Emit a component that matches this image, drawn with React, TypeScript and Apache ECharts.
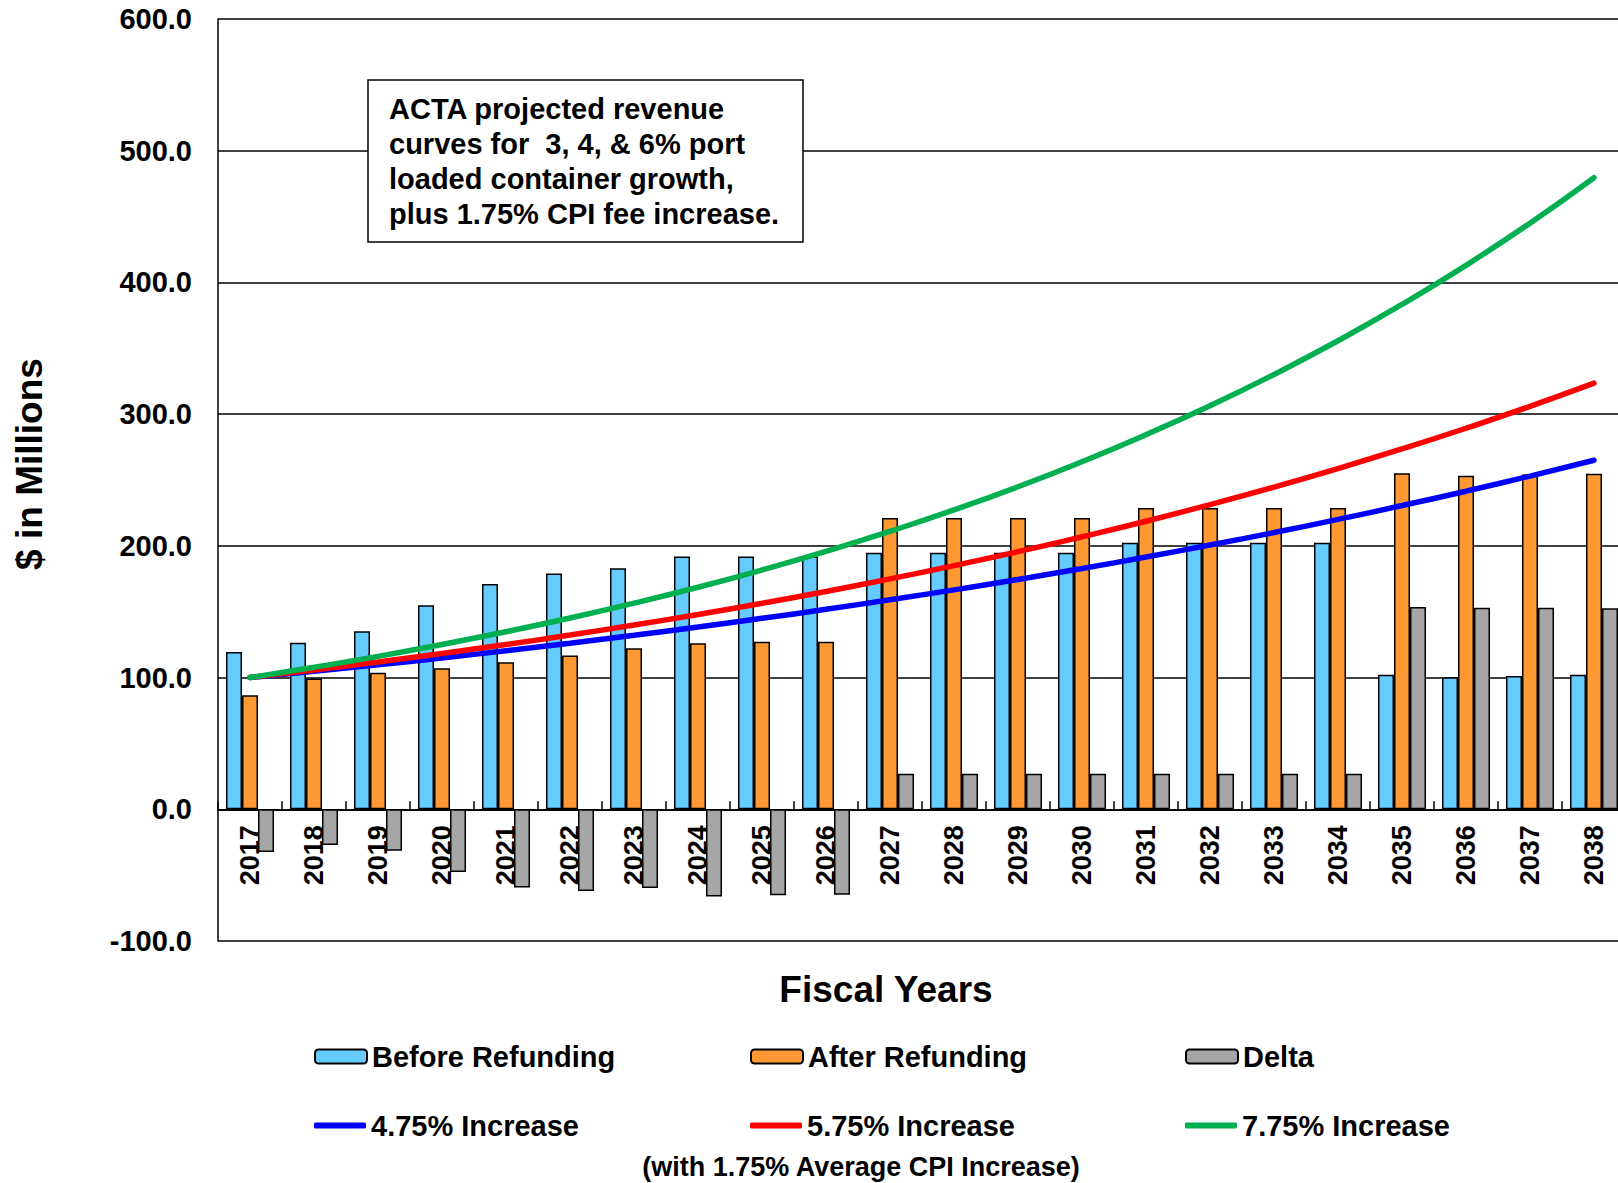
import React, { useEffect, useRef } from 'react';
import * as echarts from 'echarts';

const FONT = '"Liberation Sans", Arial, Helvetica, sans-serif';

const years = ['2017', '2018', '2019', '2020', '2021', '2022', '2023', '2024', '2025', '2026', '2027', '2028', '2029', '2030', '2031', '2032', '2033', '2034', '2035', '2036', '2037', '2038'];

const beforeRefunding = [119.5, 126.5, 135.2, 155.0, 171.0, 179.0, 183.0, 192.0, 192.0, 192.0, 194.8, 194.8, 194.8, 194.8, 202.4, 202.4, 202.4, 202.4, 102.1, 100.3, 101.1, 102.1];
const afterRefunding = [86.6, 99.3, 103.6, 107.1, 111.7, 116.8, 122.3, 126.1, 127.2, 127.2, 221.2, 221.2, 221.2, 221.2, 228.8, 228.8, 228.8, 228.8, 255.1, 253.3, 254.2, 254.8];
const delta = [-32.4, -27.1, -31.4, -47.6, -59.3, -62.0, -59.7, -66.3, -65.3, -64.8, 26.9, 26.9, 26.9, 26.9, 26.9, 26.9, 26.9, 26.9, 153.5, 153.0, 153.0, 152.6];

const increase475 = [100, 104.8, 109.7, 114.9, 120.4, 126.1, 132.1, 138.4, 145.0, 151.8, 159.1, 166.6, 174.5, 182.8, 191.5, 200.6, 210.1, 220.1, 230.6, 241.5, 253.0, 265.0];
const increase575 = [100, 105.8, 111.8, 118.3, 125.1, 132.3, 139.9, 147.9, 156.4, 165.4, 174.9, 185.0, 195.6, 206.9, 218.7, 231.3, 244.6, 258.7, 273.6, 289.3, 305.9, 323.5];
const increase775 = [100, 107.8, 116.1, 125.1, 134.8, 145.2, 156.5, 168.6, 181.7, 195.8, 211.0, 227.3, 244.9, 263.9, 284.4, 306.4, 330.1, 355.7, 383.3, 413.0, 445.0, 479.5];

const yTicks = { min: -100, max: 600, interval: 100 };

const annotationLines = [
  'ACTA projected revenue',
  'curves for  3, 4, & 6% port',
  'loaded container growth,',
  'plus 1.75% CPI fee increase.',
];

const GRID_TOP = 19;
const GRID_BOTTOM = 242;
const CHART_W = 1626;
const CHART_H = 1183;

export default function App() {
  const ref = useRef<HTMLDivElement>(null);

  useEffect(() => {
    document.body.style.margin = '0';
    document.body.style.overflow = 'hidden';
    document.documentElement.style.overflow = 'hidden';
    const chart = echarts.init(ref.current!, null, { renderer: 'svg' });

    // place the category axis on the zero line of the value axis
    const gridH = CHART_H - GRID_TOP - GRID_BOTTOM;
    const zeroOffset = -gridH * (0 - yTicks.min) / (yTicks.max - yTicks.min);

    const legendText = { fontFamily: FONT, fontWeight: 'bold' as const, fontSize: 29, color: '#000' };
    const mkLegend = (name: string, left: number, top: number, isLine: boolean) => ({
      data: isLine ? [{ name, icon: 'roundRect' }] : [name],
      left,
      top,
      padding: 0,
      itemWidth: 52,
      itemHeight: isLine ? 6 : 14,
      selectedMode: false,
      textStyle: legendText,
    });

    const barStyle = (color: string) => ({ color, borderColor: '#000', borderWidth: 1.5 });
    const lineSeries = (name: string, data: number[], color: string) => ({
      type: 'line',
      name,
      data,
      smooth: true,
      symbol: 'none',
      showSymbol: false,
      lineStyle: { width: 5.5, color, cap: 'round' },
      itemStyle: { color },
      z: 5,
    });

    const option: any = {
      animation: false,
      backgroundColor: '#fff',
      grid: { left: 218, top: GRID_TOP, right: 0, bottom: GRID_BOTTOM, containLabel: false },
      legend: [
        mkLegend('Before Refunding', 314, 1042, false),
        mkLegend('After Refunding', 750, 1042, false),
        mkLegend('Delta', 1185, 1042, false),
        mkLegend('4.75% Increase', 314, 1111, true),
        mkLegend('5.75% Increase', 750, 1111, true),
        mkLegend('7.75% Increase', 1185, 1111, true),
      ],
      xAxis: {
        type: 'category',
        data: years,
        offset: zeroOffset,
        axisLine: { onZero: false, lineStyle: { color: '#000', width: 2 } },
        axisTick: { show: true, inside: true, length: 8, lineStyle: { color: '#000', width: 1.5 } },
        axisLabel: {
          rotate: 90,
          margin: 16,
          interval: 0,
          fontFamily: FONT,
          fontWeight: 'bold',
          fontSize: 27,
          color: '#000',
        },
        splitLine: { show: false },
      },
      yAxis: {
        type: 'value',
        min: yTicks.min,
        max: yTicks.max,
        interval: yTicks.interval,
        axisLine: { show: true, onZero: false, lineStyle: { color: '#000', width: 1.5 } },
        axisTick: { show: false },
        axisLabel: {
          formatter: (v: number) => v.toFixed(1),
          margin: 26,
          fontFamily: FONT,
          fontWeight: 'bold',
          fontSize: 29,
          color: '#000',
        },
        splitLine: { show: true, lineStyle: { color: '#000', width: 1.5 } },
      },
      series: [
        { type: 'bar', name: 'Before Refunding', data: beforeRefunding, barWidth: 16, barGap: '0%', itemStyle: barStyle('#66CCFF') },
        { type: 'bar', name: 'After Refunding', data: afterRefunding, barWidth: 16, barGap: '0%', itemStyle: barStyle('#FF9933') },
        { type: 'bar', name: 'Delta', data: delta, barWidth: 16, barGap: '0%', itemStyle: barStyle('#A6A6A6') },
        lineSeries('4.75% Increase', increase475, '#0000FF'),
        lineSeries('5.75% Increase', increase575, '#FF0000'),
        lineSeries('7.75% Increase', increase775, '#00B050'),
      ],
      graphic: [
        {
          type: 'text',
          x: 29,
          y: 464,
          rotation: Math.PI / 2,
          style: { text: '$ in Millions', font: `bold 37px ${FONT}`, textAlign: 'center', textVerticalAlign: 'middle', fill: '#000' },
        },
        {
          type: 'text',
          x: 886,
          y: 989,
          style: { text: 'Fiscal Years', font: `bold 37px ${FONT}`, textAlign: 'center', textVerticalAlign: 'middle', fill: '#000' },
        },
        {
          type: 'text',
          x: 861,
          y: 1167,
          style: { text: '(with 1.75% Average CPI Increase)', font: `bold 27px ${FONT}`, textAlign: 'center', textVerticalAlign: 'middle', fill: '#000' },
        },
        {
          type: 'rect',
          z: 100,
          shape: { x: 368, y: 80, width: 435, height: 162 },
          style: { fill: '#fff', stroke: '#000', lineWidth: 1.5 },
        },
        {
          type: 'text',
          z: 101,
          x: 389,
          y: 91,
          style: {
            text: annotationLines.join('\n'),
            font: `bold 29px ${FONT}`,
            lineHeight: 35,
            textAlign: 'left',
            textVerticalAlign: 'top',
            fill: '#000',
          },
        },
      ],
    };

    chart.setOption(option);
    return () => chart.dispose();
  }, []);

  return <div ref={ref} style={{ width: CHART_W, height: CHART_H }} />;
}
